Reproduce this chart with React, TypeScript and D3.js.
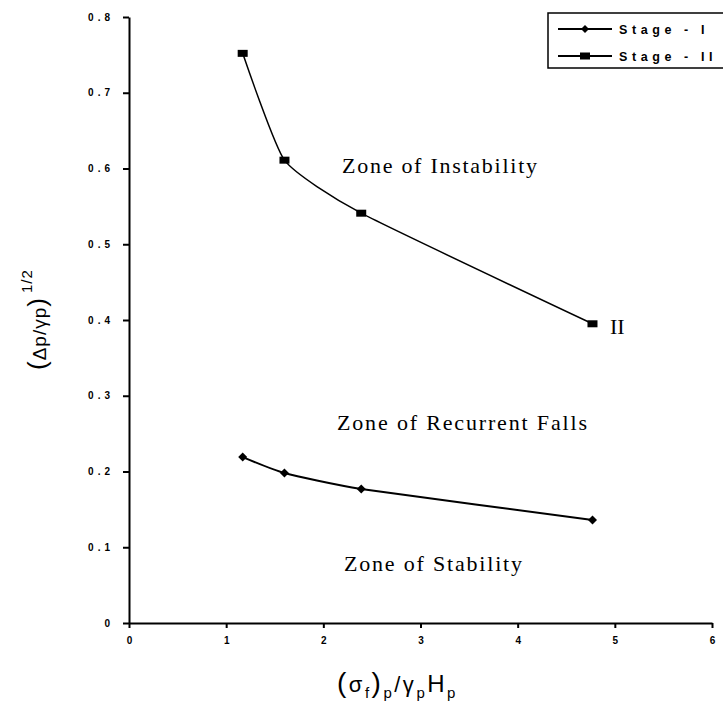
import React, { useRef, useEffect } from 'react'
import * as d3 from 'd3'

// values
const ratio = [1.17, 1.6, 2.39, 4.77]
const stageOne = [0.219, 0.198, 0.177, 0.136]
const stageTwo = [0.752, 0.611, 0.541, 0.395]
const xTicks = [0, 1, 2, 3, 4, 5, 6]
const yTicks = [0, 0.1, 0.2, 0.3, 0.4, 0.5, 0.6, 0.7, 0.8]
const seriesNames = ['Stage - I', 'Stage - II']

const W = 723
const H = 704
const x = d3.scaleLinear().domain([0, 6]).range([129, 712])
const y = d3.scaleLinear().domain([0, 0.8]).range([623, 17])

const line = d3
  .line<number>()
  .x((_, i) => x(ratio[i]))
  .y(d => y(d))
  .curve(d3.curveCardinal.tension(0.5))

const diamond = (cx: number, cy: number, r = 4.5) =>
  `M${cx},${cy - r}L${cx + r},${cy}L${cx},${cy + r}L${cx - r},${cy}Z`

const serif = '"Liberation Serif", "Times New Roman", serif'
const sans = '"Liberation Sans", Arial, sans-serif'

function App() {
  const xAxisRef = useRef<SVGGElement>(null)
  const yAxisRef = useRef<SVGGElement>(null)

  useEffect(() => {
    const gx = d3.select(xAxisRef.current)
    gx.call(
      d3
        .axisBottom(x)
        .tickValues(xTicks)
        .tickSize(5)
        .tickSizeOuter(0)
        .tickPadding(9)
        .tickFormat(d3.format('d'))
    )
    const gy = d3.select(yAxisRef.current)
    gy.call(
      d3
        .axisLeft(y)
        .tickValues(yTicks)
        .tickSize(6)
        .tickSizeOuter(0)
        .tickPadding(9)
        .tickFormat(d => (d === 0 ? '0' : d3.format('.1f')(d as number)))
    )
    for (const g of [gx, gy]) {
      g.selectAll('path, line').attr('stroke', '#000').attr('stroke-width', 2)
      g.selectAll('text')
        .attr('fill', '#000')
        .style('font-family', sans)
        .style('font-weight', 'bold')
        .style('font-size', '10px')
        .style('letter-spacing', '4px')
    }
    gx.selectAll('text').style('letter-spacing', '0px')
  }, [])

  return (
    <svg
      width={W}
      height={H}
      style={{ position: 'absolute', left: 0, top: 0, background: '#fff' }}
    >
      <rect width={W} height={H} fill="#fff" />
      <g ref={xAxisRef} transform={`translate(0,${y(0)})`} />
      <g ref={yAxisRef} transform={`translate(${x(0)},0)`} />

      {/* Stage I */}
      <path d={line(stageOne) || ''} fill="none" stroke="#000" strokeWidth={2} />
      {stageOne.map((v, i) => (
        <path key={`a${i}`} d={diamond(x(ratio[i]), y(v))} fill="#000" />
      ))}

      {/* Stage II */}
      <path d={line(stageTwo) || ''} fill="none" stroke="#000" strokeWidth={1.5} />
      {stageTwo.map((v, i) => (
        <rect key={`b${i}`} x={x(ratio[i]) - 5} y={y(v) - 3.5} width={10} height={7} fill="#000" />
      ))}

      {/* zone labels */}
      <g fontFamily={serif} fontSize={22} fill="#000">
        <text x={342} y={173} textLength={195} lengthAdjust="spacing">Zone of Instability</text>
        <text x={337} y={430} textLength={250} lengthAdjust="spacing">Zone of Recurrent Falls</text>
        <text x={344} y={571} textLength={178} lengthAdjust="spacing">Zone of Stability</text>
        <text x={610} y={334}>II</text>
      </g>

      {/* legend */}
      <rect x={548} y={13} width={190} height={55} fill="#fff" stroke="#000" strokeWidth={1.5} />
      {seriesNames.map((name, i) => {
        const cy = 29 + i * 27
        return (
          <g key={name}>
            <line x1={558} x2={612} y1={cy} y2={cy} stroke="#000" strokeWidth={2} />
            {i === 0 ? (
              <path d={diamond(585, cy, 4)} fill="#000" />
            ) : (
              <rect x={580} y={cy - 3.5} width={10} height={7} fill="#000" />
            )}
            <text
              x={619}
              y={cy + 4.5}
              fontFamily={sans}
              fontSize={12.5}
              fontWeight={600}
              letterSpacing={4.6}
              fill="#000"
            >
              {name}
            </text>
          </g>
        )
      })}

      {/* axis titles */}
      <text x={337} y={692} fontFamily={sans} fontSize={22} letterSpacing={2.5} fill="#000">
        <tspan fontSize={28}>(</tspan>
        <tspan>σ</tspan>
        <tspan fontSize={15} dy={6}>f</tspan>
        <tspan fontSize={28} dy={-6}>)</tspan>
        <tspan fontSize={15} dy={6}>p</tspan>
        <tspan dy={-6}>/γ</tspan>
        <tspan fontSize={15} dy={6}>p</tspan>
        <tspan dy={-6} fontSize={24}>H</tspan>
        <tspan fontSize={15} dy={6}>p</tspan>
      </text>
      <text
        transform="translate(46,370) rotate(-90)"
        fontFamily={sans}
        fontSize={19}
        letterSpacing={1}
        fill="#000"
      >
        <tspan fontSize={26}>(</tspan>
        <tspan>Δp/γp</tspan>
        <tspan fontSize={26}>)</tspan>
        <tspan fontSize={15} dy={-14} dx={4}>1/2</tspan>
      </text>
    </svg>
  )
}

export default App
